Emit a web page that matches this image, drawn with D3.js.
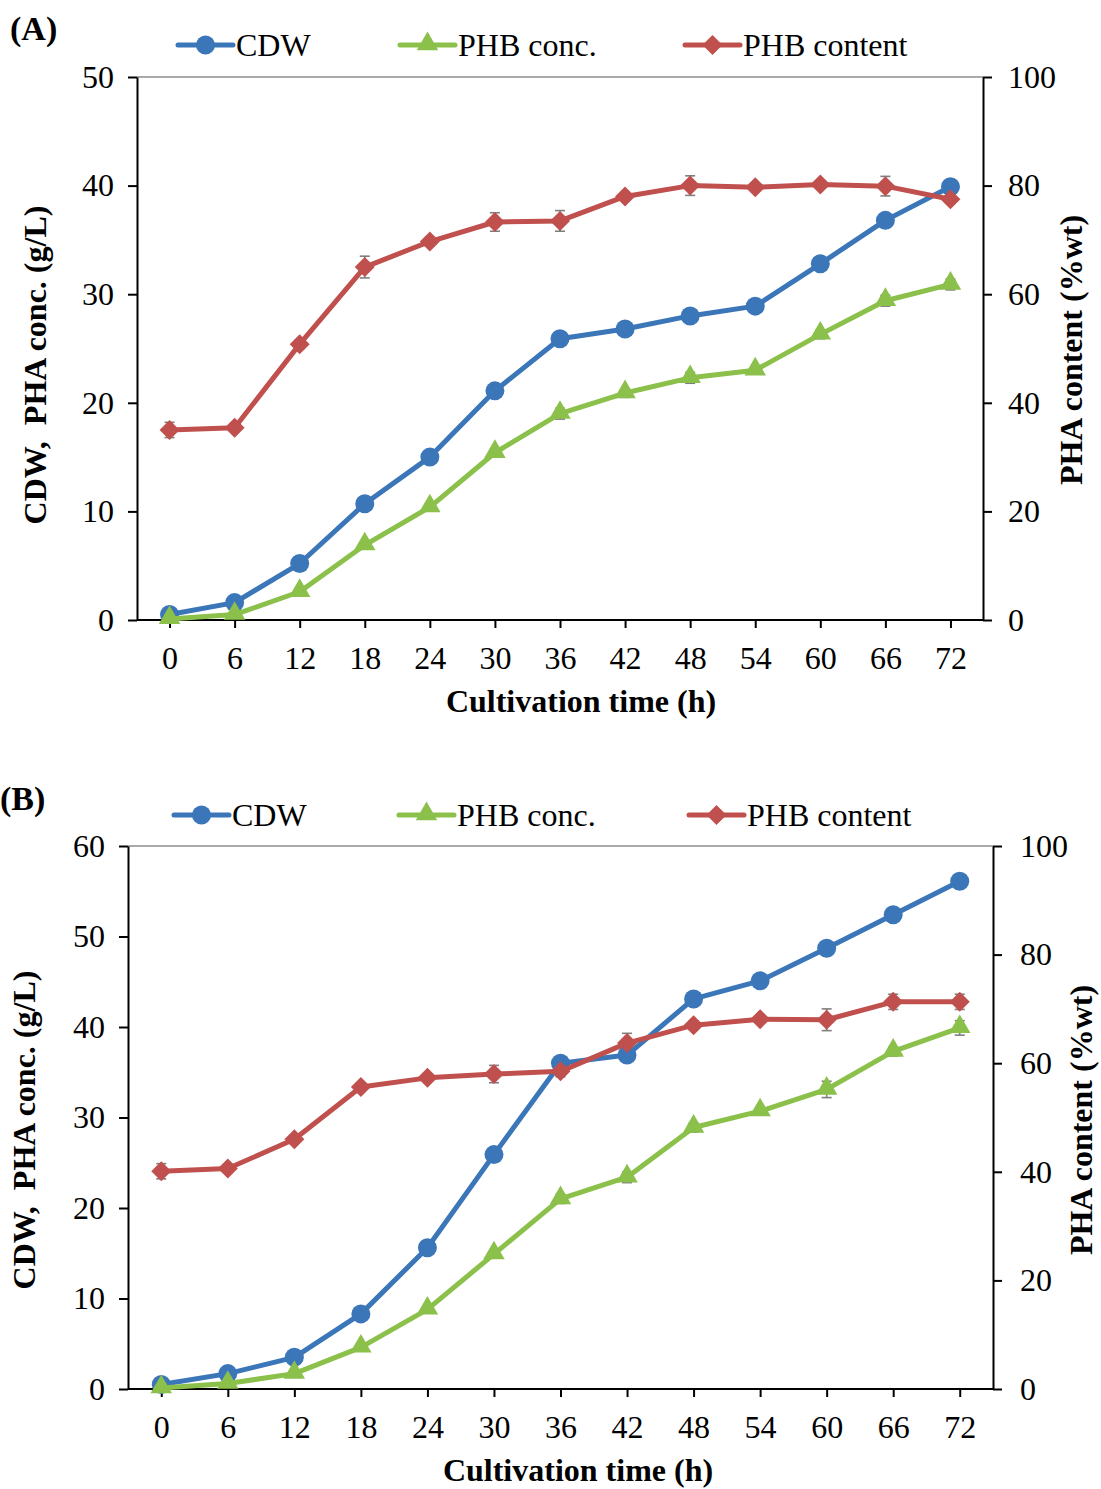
<!DOCTYPE html>
<html>
<head>
<meta charset="utf-8">
<script src="https://cdn.jsdelivr.net/npm/d3@7"></script>
<style>
  html, body { margin: 0; padding: 0; background: #fff; }
  svg { display: block; font-family: "Liberation Serif", "Times New Roman", serif; }
</style>
</head>
<body>
<div id="chart"></div>
<script>
(function () {
  'use strict';

  // cultivation time categories (h)
  var times = [0, 6, 12, 18, 24, 30, 36, 42, 48, 54, 60, 66, 72];

  // panel A values
  var cdwA = [0.5, 1.6, 5.2, 10.7, 15.0, 21.1, 25.9, 26.8, 28.0, 28.9, 32.8, 36.8, 39.9];
  var concA = [0.1, 0.5, 2.6, 6.9, 10.4, 15.4, 19.0, 20.9, 22.3, 23.0, 26.3, 29.4, 30.9];
  var contentA = [35.0, 35.4, 50.8, 65.0, 69.7, 73.3, 73.5, 78.0, 80.0, 79.7, 80.2, 79.9, 77.5];
  var concErrA = [0, 0, 0.3, 0.3, 0.3, 0.4, 0.5, 0.4, 0.5, 0.3, 0.4, 0.5, 0.5];
  var contentErrA = [1.4, 0.6, 0.8, 2.0, 0.8, 1.7, 1.9, 0.6, 1.8, 0.6, 0.6, 1.8, 0.8];

  // panel B values
  var cdwB = [0.5, 1.7, 3.5, 8.3, 15.6, 25.9, 36.0, 36.9, 43.1, 45.1, 48.7, 52.4, 56.1];
  var concB = [0.1, 0.6, 1.7, 4.6, 8.8, 14.9, 21.0, 23.4, 28.9, 30.7, 33.1, 37.3, 39.9];
  var contentB = [40.1, 40.6, 46.0, 55.6, 57.3, 58.0, 58.5, 63.7, 67.0, 68.1, 68.0, 71.3, 71.3];
  var concErrB = [0, 0, 0.2, 0.3, 0.3, 0.3, 0.5, 0.6, 0.5, 0.3, 0.9, 0.5, 0.8];
  var contentErrB = [1.4, 0.5, 0.6, 0.7, 0.6, 1.6, 1.0, 1.8, 0.8, 0.6, 2.0, 1.4, 1.4];

  var leftTicksA = [0, 10, 20, 30, 40, 50];
  var leftTicksB = [0, 10, 20, 30, 40, 50, 60];
  var rightTicksA = [0, 20, 40, 60, 80, 100];
  var rightTicksB = [0, 20, 40, 60, 80, 100];

  var seriesNames = ['CDW', 'PHB conc.', 'PHB content'];
  var colors = { cdw: '#3b76b9', conc: '#8bc04a', content: '#c0504d' };

  var W = 1101, H = 1489;
  var FS = 32;
  var svg = d3.select('#chart').append('svg').attr('width', W).attr('height', H);

  function marker(kind) {
    if (kind === 'circle') return d3.symbol().type(d3.symbolCircle).size(Math.PI * 9.5 * 9.5)();
    if (kind === 'triangle') return d3.symbol().type(d3.symbolTriangle).size(200)();
    return d3.symbol().type(d3.symbolSquare).size(200)();
  }

  function drawPanel(p) {
    var g = svg.append('g');
    var x = d3.scalePoint().domain(times).range([p.left, p.right]).padding(0.5);
    var yL = d3.scaleLinear().domain([0, p.leftMax]).range([p.bottom, p.top]);
    var yR = d3.scaleLinear().domain([0, 100]).range([p.bottom, p.top]);

    // top border of the plot area
    g.append('line').attr('x1', p.left).attr('x2', p.right).attr('y1', p.top).attr('y2', p.top)
      .attr('stroke', '#8c8c8c').attr('stroke-width', 1.5);

    // axes
    var axL = g.append('g').attr('transform', 'translate(' + p.left + ',0)')
      .call(d3.axisLeft(yL).tickValues(p.leftTicks).tickSize(9).tickPadding(p.padL).tickSizeOuter(0));
    var axR = g.append('g').attr('transform', 'translate(' + p.right + ',0)')
      .call(d3.axisRight(yR).tickValues(p.rightTicks).tickSize(9).tickPadding(p.padR).tickSizeOuter(0));
    var axB = g.append('g').attr('transform', 'translate(0,' + p.bottom + ')')
      .call(d3.axisBottom(x).tickSize(8).tickPadding(18).tickSizeOuter(0));
    axB.select('.domain').attr('d', 'M' + p.left + ',0H' + p.right);
    [axL, axR, axB].forEach(function (a) {
      a.selectAll('path,line').attr('stroke', '#000').attr('stroke-width', 2);
      a.selectAll('text').attr('font-size', FS).attr('fill', '#000')
        .attr('font-family', '"Liberation Serif", serif');
    });

    // axis titles
    g.append('text').attr('x', p.titleXX).attr('y', p.bottom + 92)
      .attr('text-anchor', 'middle').attr('font-weight', 'bold').attr('font-size', FS)
      .text('Cultivation time (h)');
    g.append('text').attr('transform', 'translate(' + p.titleLX + ',' + p.titleLY + ') rotate(-90)')
      .attr('text-anchor', 'middle').attr('font-weight', 'bold').attr('font-size', FS)
      .attr('xml:space', 'preserve').style('white-space', 'pre')
      .text('CDW,  PHA conc. (g/L)');
    g.append('text').attr('transform', 'translate(' + p.titleRX + ',' + p.titleRY + ') rotate(-90)')
      .attr('text-anchor', 'middle').attr('font-weight', 'bold').attr('font-size', FS)
      .text('PHA content (%wt)');

    // panel letter
    g.append('text').attr('x', p.letterX).attr('y', p.letterY)
      .attr('font-weight', 'bold').attr('font-size', 34).text(p.letter);

    var series = [
      { key: 'cdw', vals: p.cdw, err: null, y: yL, shape: 'circle' },
      { key: 'conc', vals: p.conc, err: p.concErr, y: yL, shape: 'triangle' },
      { key: 'content', vals: p.content, err: p.contentErr, y: yR, shape: 'diamond' }
    ];

    // error bars behind the lines
    series.forEach(function (s) {
      if (!s.err) return;
      var eg = g.append('g').attr('stroke', '#7f7f7f').attr('stroke-width', 1.6);
      times.forEach(function (t, i) {
        var e = s.err[i];
        if (!e) return;
        var cx = x(t), y1 = s.y(s.vals[i] - e), y2 = s.y(s.vals[i] + e);
        eg.append('line').attr('x1', cx).attr('x2', cx).attr('y1', y1).attr('y2', y2);
        eg.append('line').attr('x1', cx - 5).attr('x2', cx + 5).attr('y1', y1).attr('y2', y1);
        eg.append('line').attr('x1', cx - 5).attr('x2', cx + 5).attr('y1', y2).attr('y2', y2);
      });
    });

    series.forEach(function (s) {
      var line = d3.line().x(function (d, i) { return x(times[i]); }).y(function (d) { return s.y(d); });
      g.append('path').datum(s.vals).attr('d', line).attr('fill', 'none')
        .attr('stroke', colors[s.key]).attr('stroke-width', 5).attr('stroke-linejoin', 'round');
      g.selectAll(null).data(s.vals).enter().append('path')
        .attr('d', marker(s.shape))
        .attr('transform', function (d, i) {
          return 'translate(' + x(times[i]) + ',' + (s.y(d) + (s.shape === 'triangle' ? -1 : 0)) + ')' +
            (s.shape === 'diamond' ? ' rotate(45)' : '');
        })
        .attr('fill', colors[s.key]);
    });

    // legend
    var keys = ['cdw', 'conc', 'content'];
    var shapes = ['circle', 'triangle', 'diamond'];
    keys.forEach(function (k, i) {
      var lx = p.legendX[i], ly = p.legendY;
      var lg = g.append('g');
      lg.append('line').attr('x1', lx).attr('x2', lx + 55).attr('y1', ly).attr('y2', ly)
        .attr('stroke', colors[k]).attr('stroke-width', 5).attr('stroke-linecap', 'round');
      lg.append('path').attr('d', marker(shapes[i]))
        .attr('transform', 'translate(' + (lx + 27.5) + ',' + (ly + (shapes[i] === 'triangle' ? -1 : 0)) + ')' +
          (shapes[i] === 'diamond' ? ' rotate(45)' : ''))
        .attr('fill', colors[k]);
      lg.append('text').attr('x', lx + 58).attr('y', ly + 11).attr('font-size', FS)
        .text(seriesNames[i]);
    });
  }

  drawPanel({
    left: 137, right: 983, top: 77, bottom: 620, leftMax: 50,
    leftTicks: leftTicksA, rightTicks: rightTicksA, padL: 14, padR: 16,
    cdw: cdwA, conc: concA, content: contentA, concErr: concErrA, contentErr: contentErrA,
    titleXX: 581, titleLX: 46, titleLY: 365, titleRX: 1082, titleRY: 350,
    letter: '(A)', letterX: 10, letterY: 40,
    legendX: [178, 400, 685], legendY: 45
  });

  drawPanel({
    left: 128, right: 993, top: 846, bottom: 1389, leftMax: 60,
    leftTicks: leftTicksB, rightTicks: rightTicksB, padL: 14, padR: 18,
    cdw: cdwB, conc: concB, content: contentB, concErr: concErrB, contentErr: contentErrB,
    titleXX: 578, titleLX: 35, titleLY: 1130, titleRX: 1092, titleRY: 1120,
    letter: '(B)', letterX: 0, letterY: 810,
    legendX: [174, 399, 689], legendY: 815
  });
})();
</script>
</body>
</html>
